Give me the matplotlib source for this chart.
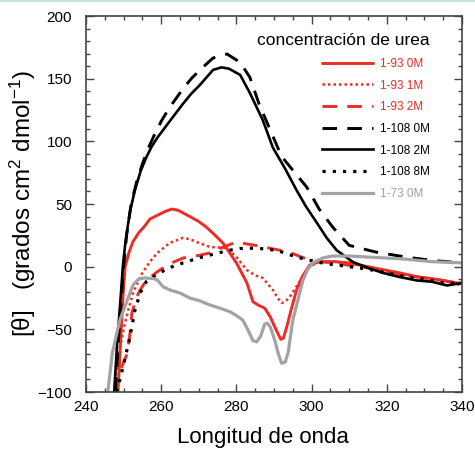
import matplotlib
matplotlib.use("Agg")
import matplotlib.pyplot as plt
from matplotlib.ticker import MultipleLocator
from matplotlib.patches import Rectangle

plt.rcParams["font.family"] = ["Liberation Sans", "DejaVu Sans"]
plt.rcParams["mathtext.fontset"] = "custom"
plt.rcParams["mathtext.rm"] = "Liberation Sans"
plt.rcParams["mathtext.it"] = "Liberation Sans:italic"

RED = "#ee2b25"
GREY = "#a3a3a6"

# --- CD spectra: wavelength (nm) and mean residue ellipticity ---
x_93_0M = [248.5, 249.2, 249.8, 250.4, 251.5, 252.5, 254, 255.5, 257, 259, 261, 262.9, 264.5,
           267.6, 270, 272, 274, 276.4, 278, 280, 282.8, 284.4, 286, 287.5, 289, 290.5, 291.8,
           292.5, 293.4, 294.5, 296, 297.5, 299.5, 302, 306, 310, 315, 320, 323.5, 328, 333,
           338.6, 340]
y_93_0M = [-100, -60, -25, 0, 12, 20, 27, 32, 38, 41, 44, 46, 45,
           40, 36, 31.6, 26, 19, 12, 3, -13, -28, -31, -33, -40, -50, -58,
           -57, -48, -35, -18.6, -8, 1.3, 4, 4, 3, 0, -3, -5, -8, -10,
           -13, -13]

x_93_1M = [247.7, 248.2, 249, 250, 251.2, 252.5, 254, 255, 257, 259, 262.3, 265.8, 267.5,
           269.5, 273, 277.5, 280, 282.8, 285, 287, 289.7, 291, 292, 293, 294.2, 297, 299.5,
           302, 306, 310, 315, 320, 325, 330, 335, 340]
y_93_1M = [-100, -80, -65, -50, -35, -21, -11, -5, 4, 11, 19, 23, 22,
           19.6, 15.7, 14.8, 7.7, -2.7, -7, -9, -18.6, -25, -29, -28, -24, -11, 0,
           4, 4, 3, -1, -4, -7, -9, -11, -15]

x_93_2M = [248, 248.5, 249.5, 251, 251.7, 252.2, 253.5, 254.4, 256, 259, 262, 265.8, 270,
           273, 276, 280, 283, 287, 290, 294, 297, 299.5, 302, 306, 310, 315, 320, 325, 330,
           335, 340]
y_93_2M = [-100, -88, -80, -69, -53, -37, -24, -18.6, -11, -4, 2, 6.9, 9,
           11, 15, 19.7, 18, 16, 14, 11.7, 8, 5.3, 4, 3, 1, -1, -4, -7, -9,
           -11, -14]

x_108_0M = [247.8, 248.6, 249.4, 250, 250.8, 252, 253.5, 255, 256.5, 258, 260, 262, 265.8,
            268, 270.3, 273.8, 277.5, 281, 283.6, 286, 289, 292, 295, 298.7, 302, 305.6, 310,
            317, 325, 332, 340]
y_108_0M = [-100, -60, -25, 0, 25, 50, 68, 82, 94, 104, 116, 126, 142,
            150, 157, 166.5, 169.7, 163, 151, 130, 109, 88, 77, 63.5, 46, 31.6, 17,
            11.7, 7.7, 5, 3]

x_108_2M = [247.5, 248.3, 249.2, 249.8, 250.5, 251.7, 253, 254.5, 256, 257.5, 259, 262, 265.8,
            268, 270.3, 273.8, 276, 278, 281, 283.6, 287, 289.7, 293, 296, 298.5, 301.4, 304,
            306.7, 311, 315, 319, 323, 328, 332, 336, 340]
y_108_2M = [-100, -60, -25, 0, 20, 44, 61, 76, 87, 96, 103, 115, 130,
            138, 145, 157, 159, 158, 153, 138.5, 117, 95, 78, 61, 48, 35, 23,
            13, 3.7, -1, -5, -8, -11, -12, -15, -13]

x_108_8M = [248.2, 250, 251.7, 253, 254.4, 256, 259, 262, 265.8, 270, 273, 278, 281,
            285.4, 290.8, 296, 301.4, 305, 310, 315, 320, 325, 330, 335, 340]
y_108_8M = [-100, -78, -56, -35, -21, -12, -6, -1, 3, 7, 9.3, 13, 14.5,
            14.8, 13, 7.7, 3.7, 2, 0, -2, -5, -8, -10, -13, -13]

x_73_0M = [245.8, 247, 249, 251, 252.5, 254, 255.5, 258, 259, 260.5, 262.3, 265, 267.6,
           270, 273, 275.5, 278.3, 280, 281.7, 283, 284.4, 285.4, 286.5, 287.5, 288.2, 289,
           290.2, 291.2, 292, 293, 293.8, 295, 296.5, 297.7, 299, 300.3, 303, 305.6, 310,
           319, 325, 332, 340]
y_73_0M = [-100, -69, -42.6, -26.6, -14.6, -10, -9, -9.5, -10.7, -16, -18.6, -21, -25,
           -27, -30.6, -33, -36, -39, -42.6, -50, -59, -60, -55, -46, -45, -48,
           -58.6, -70, -77, -76, -68, -42.6, -25, -10.7, -2, 3, 7, 8.5, 8.5,
           7, 6, 4, 3]

labels = ["1-93 0M", "1-93 1M", "1-93 2M", "1-108 0M", "1-108 2M", "1-108 8M", "1-73 0M"]
label_colors = [RED, RED, RED, "black", "black", "black", GREY]

x_ticks = [240, 260, 280, 300, 320, 340]
y_ticks = [-100, -50, 0, 50, 100, 150, 200]

fig = plt.figure(figsize=(4.75, 4.49), dpi=100)
ax = fig.add_axes([86 / 475, 1 - 392 / 449, 376 / 475, 376 / 449])

# thin tinted strip along the top edge of the figure
fig.patches.append(Rectangle((0, 1 - 2 / 449), 1, 2 / 449, transform=fig.transFigure,
                             facecolor="#bfe6e6", edgecolor="none"))

h1, = ax.plot(x_93_0M, y_93_0M, color=RED, lw=2.1, solid_capstyle="round")
h2, = ax.plot(x_93_1M, y_93_1M, color=RED, lw=1.8, linestyle=(0, (1, 1.2)))
h3, = ax.plot(x_93_2M, y_93_2M, color=RED, lw=2.1, linestyle=(0, (5, 3.5)))
h4, = ax.plot(x_108_0M, y_108_0M, color="black", lw=2.1, linestyle=(0, (5, 3.5)))
h5, = ax.plot(x_108_2M, y_108_2M, color="black", lw=1.9)
h6, = ax.plot(x_108_8M, y_108_8M, color="black", lw=2.3, linestyle=(0, (1, 2.2)))
h7, = ax.plot(x_73_0M, y_73_0M, color=GREY, lw=2.3)

ax.set_xlim(240, 340)
ax.set_ylim(-100, 200)
ax.set_xticks(x_ticks)
ax.set_yticks(y_ticks)
ax.xaxis.set_minor_locator(MultipleLocator(5))
ax.yaxis.set_minor_locator(MultipleLocator(10))
ax.tick_params(which="both", direction="in", top=True, right=True, color="#444444",
               labelsize=11, width=1.0)
ax.tick_params(which="major", length=6)
ax.tick_params(which="minor", length=3)
ax.tick_params(axis="x", which="major", pad=6)
ax.tick_params(axis="y", which="major", pad=10)
for sp in ax.spines.values():
    sp.set_color("#444444")
    sp.set_linewidth(1.2)

ax.set_xlabel("Longitud de onda", fontsize=16, va="center")
ax.xaxis.set_label_coords(0.47, -0.12, transform=ax.transAxes)
ax.set_ylabel(r"[θ]   (grados cm$^2$ dmol$^{-1}$)", fontsize=17.5, va="center")
ax.yaxis.set_label_coords(-0.168, 0.50, transform=ax.transAxes)

leg = ax.legend([h1, h2, h3, h4, h5, h6, h7], labels, loc="upper right",
                bbox_to_anchor=(0.93, 0.97), frameon=False, fontsize=8.5,
                title="concentración de urea", title_fontsize=12.5,
                handlelength=4.3, handletextpad=0.6, labelspacing=0.82,
                borderpad=0, alignment="right")
for txt, c in zip(leg.get_texts(), label_colors):
    txt.set_color(c)

fig.savefig("out.png", dpi=100)
